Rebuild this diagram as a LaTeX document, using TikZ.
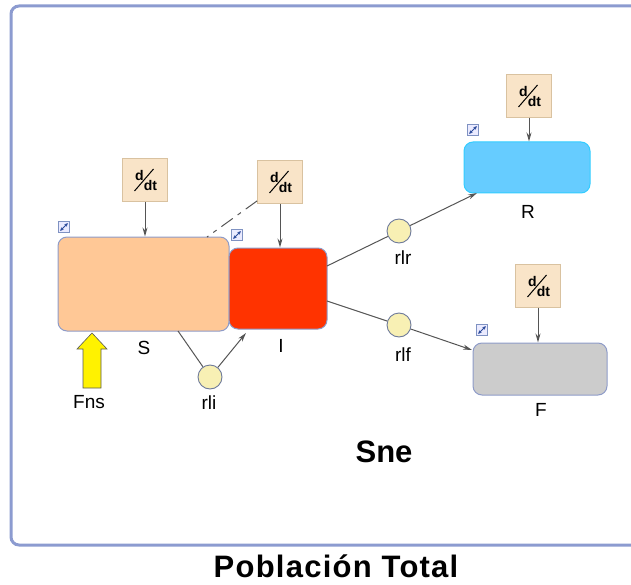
\documentclass[tikz,border=0pt]{standalone}
\usepackage{fontspec}
\setmainfont{Liberation Sans}
\usetikzlibrary{arrows.meta,calc}
\definecolor{frameblue}{HTML}{8C9BD0}
\definecolor{boxedge}{HTML}{8E9BC8}
\definecolor{sfill}{HTML}{FFC896}
\definecolor{ifill}{HTML}{FF3300}
\definecolor{rfill}{HTML}{66CCFF}
\definecolor{redge}{HTML}{33CCFF}
\definecolor{ffill}{HTML}{CCCCCC}
\definecolor{ddtfill}{HTML}{F9E4C8}
\definecolor{ddtedge}{HTML}{D9C2A0}
\definecolor{circfill}{HTML}{F8F0B4}
\definecolor{circedge}{HTML}{6E7A9A}
\definecolor{linegray}{HTML}{555555}
\definecolor{iconblue}{HTML}{2A4A9A}
\begin{document}
\begin{tikzpicture}[x=1pt,y=-1pt,
  stock/.style={draw=boxedge,line width=1pt,rounded corners=9pt,inner sep=0pt},
  ddt/.style={draw=ddtedge,fill=ddtfill,line width=0.8pt,minimum width=34pt,minimum height=33pt,inner sep=0pt},
  valve/.style={circle,draw=circedge,fill=circfill,line width=0.9pt,minimum size=24pt,inner sep=0pt},
  lbl/.style={font=\fontsize{19}{21}\selectfont,text=black,inner sep=0pt},
  conn/.style={draw=linegray,line width=1pt},
  arr/.style={conn,-{Stealth[length=9pt,width=5pt]}},
  icon/.style={draw=iconblue!60,fill=blue!8,line width=0.6pt,minimum size=11pt,inner sep=0pt}
]
\useasboundingbox (0,0) rectangle (631,585);
% frame
\draw[frameblue,line width=3pt,rounded corners=8pt] (660,6) -- (11,6) -- (11,545) -- (660,545);
% stocks
\node[stock,fill=sfill,minimum width=171pt,minimum height=94pt] (S) at (143.5,284) {};
\node[stock,fill=ifill,minimum width=98pt,minimum height=81pt] (I) at (278,288.5) {};
\node[stock,draw=redge,fill=rfill,minimum width=126pt,minimum height=51pt] (R) at (527,167.5) {};
\node[stock,fill=ffill,minimum width=134pt,minimum height=52pt] (F) at (540,369) {};
% labels of stocks
\node[lbl] (Sl) at (144,348) {S};
\node[lbl] (Il) at (281,346) {I};
\node[lbl] (Rl) at (528,212) {R};
\node[lbl] (Fl) at (541,410) {F};
% d/dt boxes
\newcommand{\ddtglyph}{\tikz[x=1pt,y=-1pt,baseline=0pt]{%
  \node[inner sep=0pt,font=\fontsize{14}{14}\bfseries\selectfont] at (-6,-5) {d};
  \node[inner sep=0pt,font=\fontsize{14}{14}\bfseries\selectfont] at (5,5) {dt};
  \draw[line width=1pt] (-11,11) -- (8,-11);}}
\node[ddt] (dS) at (145,180) {\ddtglyph};
\node[ddt] (dI) at (280,182) {\ddtglyph};
\node[ddt] (dR) at (529,96) {\ddtglyph};
\node[ddt] (dF) at (538,286) {\ddtglyph};
\draw[arr] (dS.south) -- (S.north -| dS.south);
\draw[arr] (dI.south) -- (I.north -| dI.south);
\draw[arr] (dR.south) -- (R.north -| dR.south);
\draw[arr] (dF.south) -- (F.north -| dF.south);
\coordinate (dsh) at (207,237);
\draw[conn,dash pattern=on 14pt off 6pt on 4pt off 6pt] (dI.south west) ++(0,-3) -- (dsh);
% icons
\newcommand{\iconglyph}{\tikz[x=1pt,y=-1pt]{\draw[iconblue,line width=1pt,{Stealth[length=3.5pt,width=3.5pt]}-{Stealth[length=3.5pt,width=3.5pt]}] (-3.8,3.8) -- (3.8,-3.8);}}
\node[icon] (iS) at (64,227) {\iconglyph};
\node[icon] (iI) at (237,235) {\iconglyph};
\node[icon] (iR) at (473,130) {\iconglyph};
\node[icon] (iF) at (482,330) {\iconglyph};
% valves
\node[valve] (rli) at (210,377) {};
\node[valve] (rlr) at (399,231) {};
\node[valve] (rlf) at (399,325) {};
\node[lbl] (rlil) at (209,403) {rli};
\node[lbl] (rlrl) at (403,258) {rlr};
\node[lbl] (rlfl) at (403,355) {rlf};
% flows
\coordinate (sb) at (178,331);
\coordinate (ib) at (246,333);
\draw[conn] (sb) -- (rli);
\draw[arr] (rli) -- (ib);
\coordinate (ir1) at (327,266);
\coordinate (rbl) at (477,193);
\draw[conn] (ir1) -- (rlr);
\draw[arr] (rlr) -- (rbl);
\coordinate (ir2) at (327,301);
\coordinate (ftl) at (472,350);
\draw[conn] (ir2) -- (rlf);
\draw[arr] (rlf) -- (ftl);
% Fns yellow arrow
\draw[fill=yellow,draw=gray!70!black,line width=0.6pt] (83,388) -- (83,349) -- (77,349) -- (92,333) -- (107,349) -- (101,349) -- (101,388) -- cycle;
\node[lbl] (Fns) at (89,402) {Fns};
% titles
\node[font=\fontsize{31}{34}\bfseries\selectfont,inner sep=0pt] (Sne) at (384,452) {Sne};
\node[font=\fontsize{31}{34}\bfseries\addfontfeature{LetterSpace=4}\selectfont,inner sep=0pt] (PT) at (336,566) {Población Total};
\end{tikzpicture}
\end{document}
